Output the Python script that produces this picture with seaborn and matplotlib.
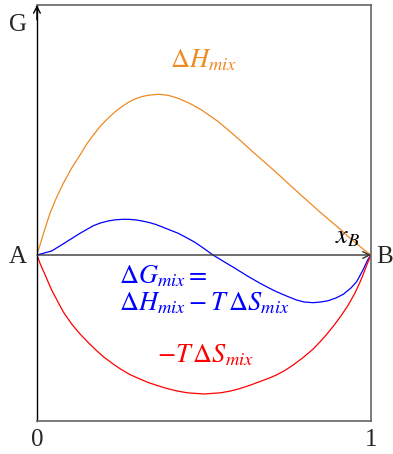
import numpy as np
import pandas as pd
import matplotlib
matplotlib.use('Agg')
import matplotlib.pyplot as plt
import seaborn as sns

# mole fraction x_B and curve values (arbitrary units)
x_h = [0, 0.02, 0.039, 0.058, 0.079, 0.104, 0.129, 0.149, 0.169, 0.19, 0.213,
       0.233, 0.254, 0.273, 0.293, 0.315, 0.338, 0.368, 0.395, 0.423, 0.458,
       0.493, 0.543, 0.578, 0.613, 0.64, 0.668, 0.698, 0.728, 0.757, 0.787,
       0.817, 0.847, 0.877, 0.907, 0.93, 0.955, 0.978, 1.0]
dH = [0, 22, 41.7, 57, 71.7, 87, 100, 111, 120, 129, 136.7,
      143, 148.3, 152.5, 156, 158.5, 160, 160.7, 159.5, 156.7, 151.5,
      145, 133.3, 123.5, 113.3, 105, 96.7, 88, 79, 70, 61,
      52, 43, 34.5, 26, 19, 12, 5.5, 0]

x_g = [0, 0.022, 0.044, 0.066, 0.089, 0.109, 0.129, 0.149, 0.169, 0.19, 0.213,
       0.235, 0.258, 0.278, 0.298, 0.318, 0.338, 0.356, 0.373, 0.398, 0.423,
       0.448, 0.473, 0.5, 0.527, 0.56, 0.593, 0.63, 0.668, 0.693, 0.717,
       0.747, 0.777, 0.8, 0.827, 0.85, 0.872, 0.895, 0.917, 0.94, 0.957,
       0.976, 0.99, 1.0]
dG = [0, 2, 4, 8.5, 13.3, 17.5, 21.7, 25.5, 29.3, 32, 34,
      35.2, 35.7, 35.6, 35, 33.8, 32.3, 30.5, 28.3, 25, 21.7,
      17.3, 12.7, 6.5, 0, -6.7, -13.3, -21, -28.3, -32.7, -36.7,
      -41, -45, -47, -47.7, -47, -45.7, -43, -39.3, -33, -26.7,
      -15, -5, 0]

x_s = [0, 0.01, 0.018, 0.044, 0.079, 0.105, 0.129, 0.155, 0.178, 0.2, 0.228,
       0.25, 0.278, 0.308, 0.333, 0.36, 0.389, 0.42, 0.45, 0.5, 0.55,
       0.58, 0.608, 0.64, 0.668, 0.692, 0.717, 0.742, 0.767, 0.797, 0.827,
       0.847, 0.867, 0.89, 0.912, 0.932, 0.952, 0.966, 0.976, 0.988, 1.0]
mTdS = [0, -9, -15, -35, -57, -69.5, -79, -88, -95.5, -102, -109,
        -114, -119.5, -124, -127.5, -130.5, -133.5, -136, -137.8, -139, -137.8,
        -136, -133.5, -130, -126.5, -123.5, -120, -115.5, -110, -102.5, -94,
        -87, -79.5, -70, -60, -50, -38, -28, -20, -9.5, 0]

sns.set_theme(style='white')
plt.rcParams['font.family'] = ['Liberation Serif', 'DejaVu Serif']
plt.rcParams['mathtext.fontset'] = 'stix'

fig = plt.figure(figsize=(3.93, 4.54), dpi=100)
ax = fig.add_axes([0.094, 0.0727, 0.85, 0.9163])

sns.lineplot(x=x_h, y=dH, color='#ee8a22', lw=0.9, ax=ax)
sns.lineplot(x=x_g, y=dG, color='#0000ff', lw=0.9, ax=ax)
sns.lineplot(x=x_s, y=mTdS, color='#ff0000', lw=0.9, ax=ax)

ax.set_xlim(0, 1)
ax.set_ylim(-166, 250)
ax.set_xticks([])
ax.set_yticks([])
for s in ['top', 'right', 'bottom']:
    ax.spines[s].set_color('#666666')
    ax.spines[s].set_linewidth(1.2)
ax.spines['left'].set_color('black')
ax.spines['left'].set_linewidth(1.0)

# axis arrows
ax.annotate('', xy=(1, 0), xytext=(0, 0),
            arrowprops=dict(arrowstyle='->', color='#333333', lw=1.0,
                            shrinkA=0, shrinkB=0))
ax.annotate('', xy=(0, 250), xytext=(0, 235),
            arrowprops=dict(arrowstyle='->', color='black', lw=1.0,
                            shrinkA=0, shrinkB=0), annotation_clip=False)

# labels outside the box
ax.text(-0.057, 230, 'G', fontsize=18, ha='center', va='center', clip_on=False)
ax.text(-0.057, -2, 'A', fontsize=18, ha='center', va='center', clip_on=False)
ax.text(1.042, -2, 'B', fontsize=18, ha='center', va='center', clip_on=False)
ax.text(0, -185, '0', fontsize=18, ha='center', va='center', clip_on=False)
ax.text(1, -185, '1', fontsize=18, ha='center', va='center', clip_on=False)

# curve labels
ax.text(0.497, 195, r'$\Delta H_{mix}$', fontsize=19, color='#ee8a22',
        ha='center', va='center')
ax.text(0.93, 17, r'$x_B$', fontsize=19, color='black',
        ha='center', va='center')
ax.text(0.245, -21, r'$\Delta G_{mix}=$', fontsize=19, color='#0000ff',
        ha='left', va='center')
ax.text(0.245, -48, r'$\Delta H_{mix}-T\,\Delta S_{mix}$', fontsize=19,
        color='#0000ff', ha='left', va='center')
ax.text(0.503, -100, r'$-T\,\Delta S_{mix}$', fontsize=19, color='#ff0000',
        ha='center', va='center')

plt.savefig('out.png', dpi=100)
